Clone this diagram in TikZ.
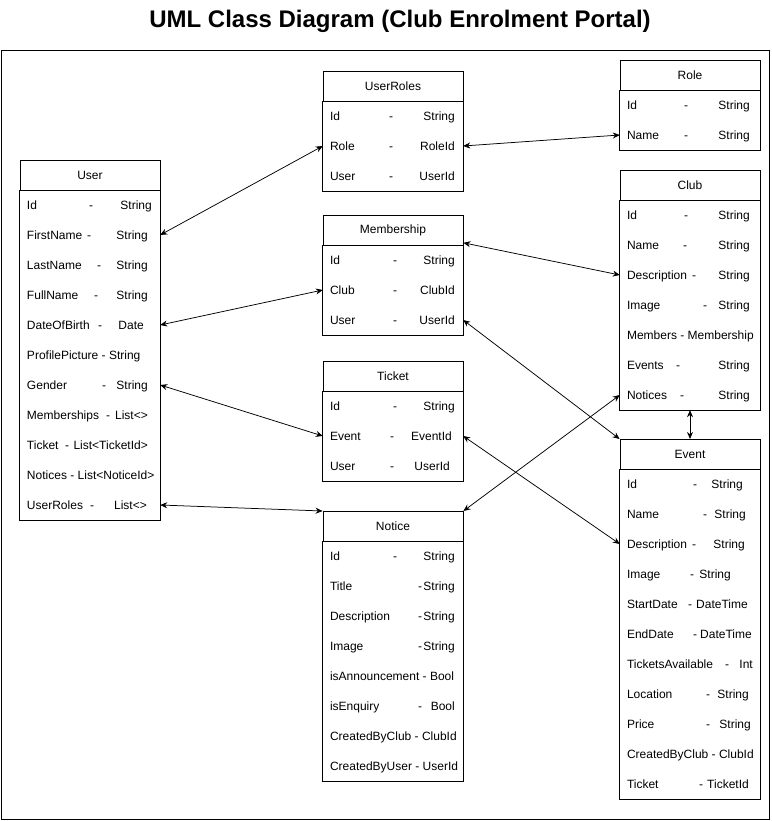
\documentclass[tikz,border=0pt]{standalone}
\usepackage{fontspec}
\setmainfont{Liberation Sans}
\usepackage{tikz}
\usetikzlibrary{arrows.meta}

\tikzset{
  hdr/.style={draw, line width=0.8pt, anchor=north, minimum width=140pt, minimum height=30pt, inner sep=0pt, font=\fontsize{12}{14}\selectfont},
  rowbox/.style={minimum width=140pt, minimum height=30pt, inner sep=0pt},
  txt/.style={inner sep=0pt, font=\fontsize{12}{14}\selectfont},
  link/.style={{Stealth[length=7pt,width=6pt]}-{Stealth[length=7pt,width=6pt]}, line width=0.75pt},
}

\newcommand{\fieldrow}[7]{%
  \node[rowbox] (#1) at (#2,#3) {};
  \node[txt, anchor=base west] (#1-n) at ([xshift=7pt,yshift=-4.3pt]#1.west) {#4};
  \node[txt, anchor=base] (#1-d) at (#5,#3+4.3) {-};
  \node[txt, anchor=base east] (#1-t) at (#7,#3+4.3) {#6};
}
\newcommand{\fieldline}[4]{%
  \node[rowbox] (#1) at (#2,#3) {};
  \node[txt, anchor=base west] (#1-n) at ([xshift=7pt,yshift=-4.3pt]#1.west) {#4};
}

\begin{document}
\begin{tikzpicture}[x=1pt,y=-1pt]
\useasboundingbox (0,0) rectangle (771,821);
\node[font=\bfseries\fontsize{24}{28}\selectfont] (title) at (400,21) {UML Class Diagram (Club Enrolment Portal)};
\draw[line width=0.8pt] (1,50) rectangle (769,819);

\node[hdr] (user) at (90,160) {User};
\fieldrow{user-id}{90}{205}{Id}{91}{String}{152}
\fieldrow{user-first}{90}{235}{FirstName}{89}{String}{148}
\fieldrow{user-last}{90}{265}{LastName}{99}{String}{148}
\fieldrow{user-full}{90}{295}{FullName}{96}{String}{148}
\fieldrow{user-dob}{90}{325}{DateOfBirth}{100}{Date}{144}
\fieldline{user-pic}{90}{355}{ProfilePicture - String}
\fieldrow{user-gender}{90}{385}{Gender}{104}{String}{148}
\fieldrow{user-members}{90}{415}{Memberships}{108}{List<>}{148}
\fieldrow{user-ticket}{90}{445}{Ticket}{67}{List<TicketId>}{148}
\fieldline{user-notices}{90}{475}{Notices - List<NoticeId>}
\fieldrow{user-roles}{90}{505}{UserRoles}{92}{List<>}{147}
\draw[line width=0.8pt] (user.south west) rectangle (user-roles.south east);

\node[hdr] (userroles) at (393,71) {UserRoles};
\fieldrow{ur-id}{393}{116}{Id}{391}{String}{455}
\fieldrow{ur-role}{393}{146}{Role}{391}{RoleId}{455}
\fieldrow{ur-user}{393}{176}{User}{391}{UserId}{455}
\draw[line width=0.8pt] (userroles.south west) rectangle (ur-user.south east);

\node[hdr] (membership) at (393,215) {Membership};
\fieldrow{ms-id}{393}{260}{Id}{395}{String}{455}
\fieldrow{ms-club}{393}{290}{Club}{395}{ClubId}{455}
\fieldrow{ms-user}{393}{320}{User}{395}{UserId}{455}
\draw[line width=0.8pt] (membership.south west) rectangle (ms-user.south east);

\node[hdr] (ticket) at (393,361) {Ticket};
\fieldrow{tk-id}{393}{406}{Id}{395}{String}{455}
\fieldrow{tk-event}{393}{436}{Event}{392}{EventId}{452}
\fieldrow{tk-user}{393}{466}{User}{392}{UserId}{450}
\draw[line width=0.8pt] (ticket.south west) rectangle (tk-user.south east);

\node[hdr] (notice) at (393,511) {Notice};
\fieldrow{nt-id}{393}{556}{Id}{395}{String}{455}
\fieldrow{nt-title}{393}{586}{Title}{420}{String}{455}
\fieldrow{nt-desc}{393}{616}{Description}{420}{String}{455}
\fieldrow{nt-image}{393}{646}{Image}{420}{String}{455}
\fieldline{nt-announce}{393}{676}{isAnnouncement - Bool}
\fieldrow{nt-enquiry}{393}{706}{isEnquiry}{420}{Bool}{455}
\fieldline{nt-club}{393}{736}{CreatedByClub - ClubId}
\fieldline{nt-user}{393}{766}{CreatedByUser - UserId}
\draw[line width=0.8pt] (notice.south west) rectangle (nt-user.south east);

\node[hdr] (role) at (690,60) {Role};
\fieldrow{rl-id}{690}{105}{Id}{686}{String}{750}
\fieldrow{rl-name}{690}{135}{Name}{686}{String}{750}
\draw[line width=0.8pt] (role.south west) rectangle (rl-name.south east);

\node[hdr] (club) at (690,170) {Club};
\fieldrow{cl-id}{690}{215}{Id}{686}{String}{750}
\fieldrow{cl-name}{690}{245}{Name}{685}{String}{750}
\fieldrow{cl-desc}{690}{275}{Description}{694}{String}{750}
\fieldrow{cl-image}{690}{305}{Image}{705}{String}{750}
\fieldline{cl-members}{690}{335}{Members - Membership}
\fieldrow{cl-events}{690}{365}{Events}{678}{String}{750}
\fieldrow{cl-notices}{690}{395}{Notices}{682}{String}{750}
\draw[line width=0.8pt] (club.south west) rectangle (cl-notices.south east);

\node[hdr] (event) at (690,439) {Event};
\fieldrow{ev-id}{690}{484}{Id}{695}{String}{743}
\fieldrow{ev-name}{690}{514}{Name}{705}{String}{746}
\fieldrow{ev-desc}{690}{544}{Description}{694}{String}{745}
\fieldrow{ev-image}{690}{574}{Image}{692}{String}{731}
\fieldrow{ev-start}{690}{604}{StartDate}{690}{DateTime}{748}
\fieldrow{ev-end}{690}{634}{EndDate}{695}{DateTime}{752}
\fieldrow{ev-avail}{690}{664}{TicketsAvailable}{727}{Int}{753}
\fieldrow{ev-loc}{690}{694}{Location}{708}{String}{749}
\fieldrow{ev-price}{690}{724}{Price}{708}{String}{751}
\fieldline{ev-club}{690}{754}{CreatedByClub - ClubId}
\fieldrow{ev-ticket}{690}{784}{Ticket}{701}{TicketId}{749}
\draw[line width=0.8pt] (event.south west) rectangle (ev-ticket.south east);

\draw[link] (user-first.east) -- (ur-role.west);
\draw[link] (ur-role.east) -- (rl-name.west);
\draw[link] (user-dob.east) -- (ms-club.west);
\draw[link] ([yshift=3pt]membership.south east) -- (cl-desc.west);
\draw[link] (ms-user.east) -- (event.north west);
\draw[link] (user-gender.east) -- (tk-event.west);
\draw[link] (tk-event.east) -- (ev-desc.west);
\draw[link] (user-roles.east) -- (notice.north west);
\draw[link] (notice.north east) -- (cl-notices.west);
\draw[link] (cl-notices.south) -- (event.north);
\end{tikzpicture}
\end{document}
